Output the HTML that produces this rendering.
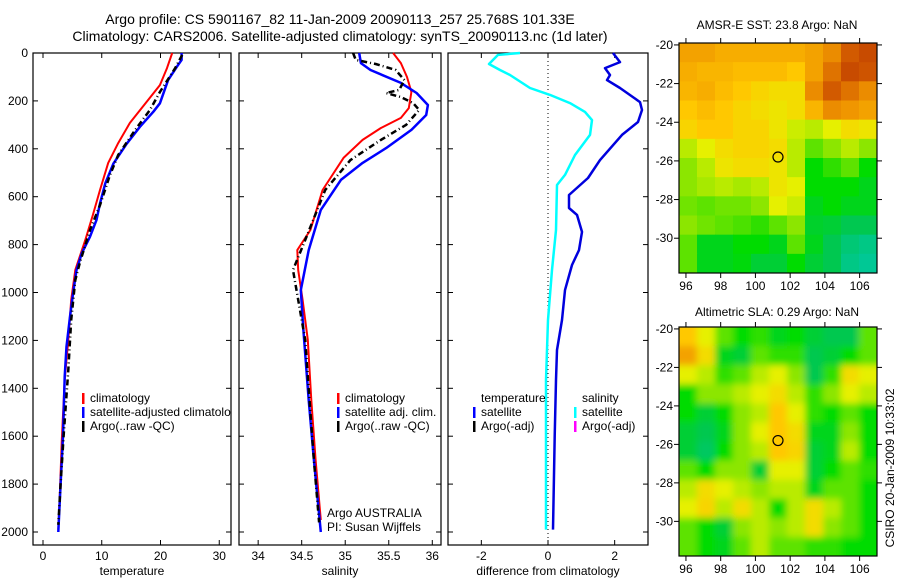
<!DOCTYPE html>
<html><head><meta charset="utf-8">
<style>
body{margin:0;background:#fff;}
svg{display:block;font-family:"Liberation Sans",sans-serif;}
text{fill:#000;}
</style></head>
<body>
<svg id="c" width="900" height="580" viewBox="0 0 900 580">
<rect width="900" height="580" fill="#fff"/>
<text x="340" y="24" font-size="14" text-anchor="middle">Argo profile: CS 5901167_82 11-Jan-2009 20090113_257 25.768S 101.33E</text>
<text x="340" y="41" font-size="14" text-anchor="middle">Climatology: CARS2006. Satellite-adjusted climatology: synTS_20090113.nc (1d later)</text>
<text x="777" y="29" font-size="12" text-anchor="middle">AMSR-E SST: 23.8 Argo: NaN</text>
<text x="777" y="316" font-size="12" text-anchor="middle">Altimetric SLA: 0.29 Argo: NaN</text>
<text x="0" y="0" font-size="12" text-anchor="middle" transform="translate(894,468) rotate(-90)">CSIRO 20-Jan-2009 10:33:02</text>
<g id="layer"></g>
</svg>
<script>
// ---- data ----
const depthTicks=[0,200,400,600,800,1000,1200,1400,1600,1800,2000];
const tempTicks=[0,10,20,30];
const salTicks=[34,34.5,35,35.5,36];
const diffTicks=[-2,0,2];
const lonTicks=[96,98,100,102,104,106];
const latTicks=[-20,-22,-24,-26,-28,-30];

const tClimDepth=[0,63,134,196,292,376,459,572,676,781,906,1031,1198,1365,1616,1825,1990];
const tClimVal=[22.0,21.1,19.9,17.9,14.8,12.8,11.1,9.7,8.5,7.2,5.5,4.8,4.3,3.7,3.2,2.9,2.6];
const tSatDepth=[0,29,57,113,210,245,308,377,461,544,628,697,767,836,906,990,1101,1226,1351,1600,1800,2000];
const tSatVal=[23.6,23.6,22.8,21.3,19.9,18.8,16.5,14.3,12.0,10.6,9.7,9.1,8.0,6.6,5.7,5.2,4.6,4.0,3.7,3.4,3.0,2.6];
const tArgoDepth=[8,63,163,238,321,426,509,635,739,873,948,1115,1324,1600,1800,1970];
const tArgoVal=[23.7,22.5,19.9,18.2,15.7,12.8,11.4,9.7,8.0,6.3,5.5,4.8,4.3,3.5,3.0,2.6];

const sClimDepth=[0,42,100,163,230,271,313,363,438,572,739,823,906,1031,1198,1449,1699,1950];
const sClimVal=[35.55,35.64,35.71,35.76,35.73,35.64,35.41,35.2,34.98,34.74,34.6,34.45,34.46,34.51,34.57,34.61,34.66,34.72];
const sSatDepth=[0,42,71,125,167,217,259,321,397,459,530,655,823,990,1157,1449,1699,2000];
const sSatVal=[35.16,35.18,35.29,35.64,35.82,35.95,35.93,35.76,35.47,35.2,34.95,34.72,34.58,34.49,34.52,34.58,34.64,34.72];
const sArgoDepth=[0,29,46,71,113,154,167,184,209,238,300,363,447,572,781,906,1031,1198,1449,1699,1960];
const sArgoVal=[35.09,35.12,35.35,35.58,35.68,35.62,35.47,35.64,35.78,35.85,35.70,35.41,35.06,34.77,34.54,34.40,34.46,34.54,34.59,34.64,34.70];

const dTempDepth=[0,38,63,92,113,146,205,238,288,342,447,522,593,647,676,747,823,885,990,1115,1240,1365,1600,1990];
const dTempVal=[1.95,2.16,1.71,1.86,1.77,2.16,2.76,2.82,2.70,2.22,1.56,1.20,0.63,0.63,0.87,1.02,0.93,0.72,0.51,0.42,0.27,0.24,0.2,0.15];
const dSalDepth=[0,8,46,71,92,146,175,209,246,280,342,426,509,551,739,906,1115,1365,1990];
const dSalVal=[-0.84,-1.5,-1.77,-1.44,-1.14,-0.54,0.06,0.66,1.11,1.32,1.26,0.81,0.51,0.27,0.24,0.12,0,-0.06,-0.06];

const sstGrid=[
[0.75,0.75,0.72,0.72,0.72,0.72,0.72,0.75,0.8,0.9,0.95],
[0.72,0.7,0.7,0.68,0.68,0.68,0.65,0.75,0.85,0.95,0.92],
[0.7,0.72,0.68,0.65,0.62,0.6,0.6,0.8,0.9,0.85,0.8],
[0.65,0.68,0.65,0.62,0.6,0.58,0.6,0.7,0.8,0.78,0.75],
[0.62,0.65,0.65,0.62,0.62,0.58,0.52,0.5,0.55,0.6,0.58],
[0.5,0.55,0.6,0.62,0.62,0.6,0.5,0.4,0.45,0.5,0.45],
[0.45,0.5,0.58,0.6,0.6,0.58,0.5,0.3,0.35,0.4,0.3],
[0.45,0.48,0.5,0.48,0.5,0.58,0.55,0.3,0.3,0.3,0.25],
[0.42,0.4,0.42,0.42,0.45,0.55,0.52,0.25,0.3,0.25,0.25],
[0.45,0.42,0.4,0.38,0.35,0.4,0.45,0.22,0.2,0.15,0.15],
[0.4,0.25,0.25,0.3,0.3,0.25,0.4,0.25,0.15,0.08,0.05],
[0.4,0.25,0.25,0.28,0.2,0.2,0.3,0.2,0.15,0.05,0.02]];
const slaGrid=[
[0.65,0.55,0.4,0.3,0.35,0.25,0.3,0.2,0.15,0.15,0.4],
[0.75,0.6,0.25,0.2,0.4,0.35,0.35,0.15,0.2,0.3,0.4],
[0.55,0.5,0.35,0.4,0.5,0.55,0.45,0.15,0.35,0.6,0.55],
[0.3,0.45,0.45,0.5,0.55,0.6,0.5,0.35,0.45,0.55,0.5],
[0.3,0.2,0.3,0.45,0.5,0.65,0.55,0.35,0.3,0.4,0.3],
[0.2,0.15,0.25,0.45,0.55,0.65,0.6,0.25,0.25,0.45,0.3],
[0.2,0.12,0.3,0.45,0.5,0.65,0.62,0.2,0.25,0.5,0.3],
[0.4,0.3,0.45,0.45,0.2,0.55,0.55,0.2,0.3,0.4,0.35],
[0.5,0.6,0.55,0.5,0.45,0.5,0.5,0.25,0.4,0.4,0.3],
[0.55,0.62,0.5,0.6,0.5,0.3,0.5,0.6,0.5,0.4,0.3],
[0.4,0.3,0.2,0.45,0.5,0.45,0.5,0.6,0.45,0.4,0.3],
[0.4,0.3,0.25,0.4,0.5,0.4,0.4,0.35,0.35,0.3,0.3]];
const argoLon=101.3, argoLat=-25.8;

// ---- drawing ----
const NS='http://www.w3.org/2000/svg';
const L=document.getElementById('layer');
function mk(tag,attrs,parent){const e=document.createElementNS(NS,tag);for(const k in attrs)e.setAttribute(k,attrs[k]);(parent||L).appendChild(e);return e;}
function lin(d0,d1,r0,r1){return v=>r0+(v-d0)*(r1-r0)/(d1-d0);}

const PT=53, PB=545;
const yD=lin(0,2000,53,532);

function panel(name,x0,x1,xmin,xmax,xt,fmt,label,showY){
  const xs=lin(xmin,xmax,x0,x1);
  const g=mk('g',{});
  
  
  const r=mk('rect',{x:x0,y:PT,width:x1-x0,height:PB-PT,fill:'#fff',stroke:'#000','stroke-width':1.2},g);
  
  
  xt.forEach(v=>{const x=xs(v);
    mk('line',{x1:x,x2:x,y1:PB,y2:PB-5,stroke:'#000'},g);
    mk('line',{x1:x,x2:x,y1:PT,y2:PT+5,stroke:'#000'},g);
    const t=mk('text',{x:x,y:PB+15,'font-size':12,'text-anchor':'middle'},g);t.textContent=fmt(v);
    
    
  });
  depthTicks.forEach(v=>{const y=yD(v);
    mk('line',{x1:x0,x2:x0+5,y1:y,y2:y,stroke:'#000'},g);
    mk('line',{x1:x1,x2:x1-5,y1:y,y2:y,stroke:'#000'},g);
    if(showY){const t=mk('text',{x:x0-5,y:y+4,'font-size':12,'text-anchor':'end'},g);t.textContent=v;
      
      }
  });
  const lt=mk('text',{x:(x0+x1)/2,y:PB+30,'font-size':12,'text-anchor':'middle'},g);lt.textContent=label;
  
  
  return {xs,g};
}
function line(p,depths,vals,color,w,dash,name){
  const pts=depths.map((d,i)=>p.xs(vals[i]).toFixed(1)+','+yD(d).toFixed(1)).join(' ');
  const a={points:pts,fill:'none',stroke:color,'stroke-width':w,'stroke-linejoin':'round'};
  if(dash)a['stroke-dasharray']=dash;
  const e=mk('polyline',a,p.g);
  
  
}
function legend(g,x,y,color,txt,name){
  if(color){mk('rect',{x:x-8,y:y-9,width:2.5,height:11,fill:color},g);}
  const t=mk('text',{x:x,y:y,'font-size':12},g);t.textContent=txt;
  
  
}

const p1=panel('temperature-panel',33,231,-1.7,32,tempTicks,v=>v,'temperature',true);
line(p1,tClimDepth,tClimVal,'#ff0000',2,null,'temp-climatology-line');
line(p1,tSatDepth,tSatVal,'#0000ff',2.5,null,'temp-satellite-line');
line(p1,tArgoDepth,tArgoVal,'#000',2.5,'6,3,1,3','temp-argo-line');
const cp=mk('clipPath',{id:'cp1'});mk('rect',{x:33,y:PT,width:198,height:PB-PT},cp);
const lg1=mk('g',{'clip-path':'url(#cp1)'},p1.g);
legend(lg1,90,402,'#ff0000','climatology','legend-climatology');
legend(lg1,90,416,'#0000ff','satellite-adjusted climatology','legend-satellite');
legend(lg1,90,430,'#000','Argo(..raw -QC)','legend-argo');

const p2=panel('salinity-panel',239,441,33.78,36.1,salTicks,v=>v,'salinity',false);
line(p2,sClimDepth,sClimVal,'#ff0000',2,null,'sal-climatology-line');
line(p2,sSatDepth,sSatVal,'#0000ff',2.5,null,'sal-satellite-line');
line(p2,sArgoDepth,sArgoVal,'#000',2.5,'6,3,1,3','sal-argo-line');
legend(p2.g,345,402,'#ff0000','climatology','legend-climatology');
legend(p2.g,345,416,'#0000ff','satellite adj. clim.','legend-satellite');
legend(p2.g,345,430,'#000','Argo(..raw -QC)','legend-argo');
legend(p2.g,327,517,null,'Argo AUSTRALIA','argo-australia-note');
legend(p2.g,327,531,null,'PI: Susan Wijffels','pi-note');

const p3=panel('difference-panel',448,648,-3,3,diffTicks,v=>v,'difference from climatology',false);
mk('line',{x1:p3.xs(0),x2:p3.xs(0),y1:PT,y2:PB,stroke:'#000','stroke-dasharray':'1,3'},p3.g);
line(p3,dSalDepth,dSalVal,'#00ffff',2.5,null,'sal-difference-line');
line(p3,dTempDepth,dTempVal,'#0000dd',2.5,null,'temp-difference-line');
legend(p3.g,481,402,null,'temperature','legend-temperature-header');
legend(p3.g,481,416,'#0000ff','satellite','legend-temp-satellite');
legend(p3.g,481,430,'#000','Argo(-adj)','legend-temp-argo');
legend(p3.g,582,402,null,'salinity','legend-salinity-header');
legend(p3.g,582,416,'#00ffff','satellite','legend-sal-satellite');
legend(p3.g,582,430,'#ff00ff','Argo(-adj)','legend-sal-argo');

// colormap
const stops=[[0,[0,200,160]],[0.15,[0,200,80]],[0.3,[0,220,0]],[0.45,[140,230,0]],[0.55,[230,240,0]],[0.65,[255,200,0]],[0.78,[240,150,0]],[0.9,[210,90,0]],[1,[190,60,0]]];
function cmap(v){for(let i=1;i<stops.length;i++){if(v<=stops[i][0]){const a=stops[i-1],b=stops[i],t=(v-a[0])/(b[0]-a[0]);
  return 'rgb('+a[1].map((c,k)=>Math.round(c+(b[1][k]-c)*t)).join(',')+')';}}return 'rgb(190,60,0)';}

function map(name,top,bot,grid,blur){
  const x0=679,x1=877;
  const lonMin=95.6,lonMax=107.0,latTop=-19.9,latBot=-31.8;
  const xs=lin(lonMin,lonMax,x0,x1), ys=lin(latTop,latBot,top,bot);
  const g=mk('g',{});
  
  
  const id='clip'+name;
  const c=mk('clipPath',{id:id});mk('rect',{x:x0,y:top,width:x1-x0,height:bot-top},c);
  const cells=mk('g',{'clip-path':'url(#'+id+')'},g);
  const inner=mk('g',blur?{filter:'url(#bl)'}:{},cells);
  const rows=grid.length, cols=grid[0].length;
  const dLon=(lonMax-lonMin)/cols, dLat=(latTop-latBot)/rows;
  grid.forEach((row,i)=>row.forEach((v,j)=>{
    const xa=xs(lonMin+j*dLon), xb=xs(lonMin+(j+1)*dLon), ya=ys(latTop-i*dLat), yb=ys(latTop-(i+1)*dLat);
    const r=mk('rect',{x:xa-(blur?6:0)*(j==0),y:ya-(blur?6:0)*(i==0),width:xb-xa+0.6+(blur?6:0)*(j==0||j==cols-1),height:yb-ya+0.6+(blur?6:0)*(i==0||i==rows-1),fill:cmap(v)},inner);
    
    
  }));
  mk('rect',{x:x0,y:top,width:x1-x0,height:bot-top,fill:'none',stroke:'#000','stroke-width':1.2},g);
  lonTicks.forEach(v=>{const x=xs(v);
    mk('line',{x1:x,x2:x,y1:bot,y2:bot+5,stroke:'#000'},g);
    mk('line',{x1:x,x2:x,y1:top,y2:top-5,stroke:'#000'},g);
    const t=mk('text',{x:x,y:bot+17,'font-size':12,'text-anchor':'middle'},g);t.textContent=v;
    
    });
  latTicks.forEach(v=>{const y=ys(v);
    mk('line',{x1:x0,x2:x0-5,y1:y,y2:y,stroke:'#000'},g);
    mk('line',{x1:x1,x2:x1+5,y1:y,y2:y,stroke:'#000'},g);
    const t=mk('text',{x:x0-6,y:y+4,'font-size':12,'text-anchor':'end'},g);t.textContent=v;
    
    });
  const m=mk('circle',{cx:xs(argoLon),cy:ys(argoLat),r:5,fill:'none',stroke:'#000','stroke-width':1.2},g);
  
  
}
const defs=mk('defs',{});const f=mk('filter',{id:'bl',x:'-10%',y:'-10%',width:'120%',height:'120%'},defs);mk('feGaussianBlur',{stdDeviation:3.5},f);
map('sst-map',43,273,sstGrid,false);
map('sla-map',327,556,slaGrid,true);
</script>
</body></html>
